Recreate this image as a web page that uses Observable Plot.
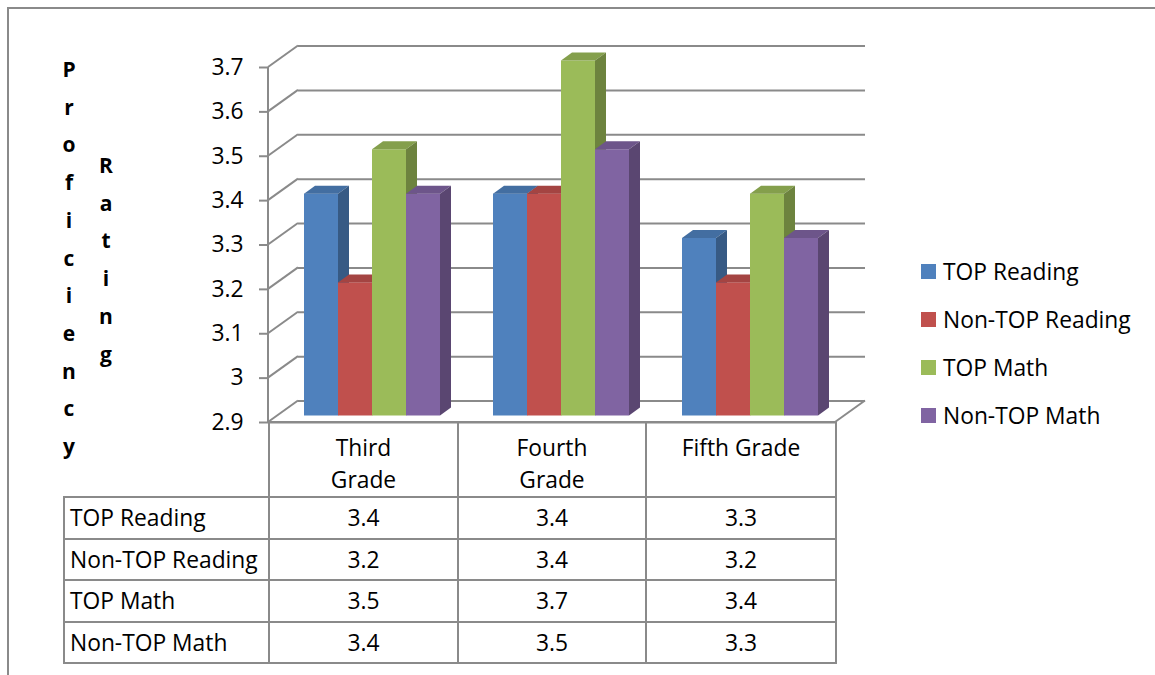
<!DOCTYPE html>
<html>
<head>
<meta charset="utf-8">
<script src="https://cdn.jsdelivr.net/npm/d3@7"></script>
<script src="https://cdn.jsdelivr.net/npm/@observablehq/plot@0.6"></script>
<style>
  html, body { margin: 0; padding: 0; background: #fff; }
  #wrap { position: relative; width: 1155px; height: 675px; overflow: hidden; font-family: "Open Sans", Lato, sans-serif; color: #000; }
  #border { position: absolute; left: 7px; top: 7px; width: 1150px; height: 670px; border-top: 2px solid #8a8a8a; border-left: 2px solid #8a8a8a; box-sizing: border-box; }
  #chart { position: absolute; left: 0; top: 0; }
  .ycol { position: absolute; width: 40px; text-align: center; font-weight: bold; font-size: 21px; line-height: 37.7px; }
  #legend { position: absolute; left: 921px; top: 247px; font-size: 22.8px; }
  #legend .item { height: 48px; display: flex; align-items: center; white-space: nowrap; }
  #legend .sw { width: 15px; height: 15px; margin-right: 7px; }
  #tbl { position: absolute; left: 63px; top: 421px; border-collapse: collapse; table-layout: fixed; font-size: 22.8px; }
  #tbl td { border: 2px solid #8a8a8a; padding: 0; }
  #tbl tr.head td { height: 61px; vertical-align: top; text-align: center; line-height: 32px; padding-top: 9px; white-space: pre-line; }
  #tbl tr.head td.blank { border-left: none; border-top: none; border-bottom: 2px solid #8a8a8a; }
  #tbl tr.row td { height: 39.5px; text-align: center; }
  #tbl tr.row td.lab { text-align: left; padding-left: 5px; white-space: nowrap; }
</style>
</head>
<body>
<div id="wrap">
  <div id="border"></div>
  <div id="chart"></div>
</div>
<script>
// ---- data ----
const grades = ["Third Grade", "Fourth Grade", "Fifth Grade"];
const gradeLabels = ["Third\nGrade", "Fourth\nGrade", "Fifth Grade"];
const series = ["TOP Reading", "Non-TOP Reading", "TOP Math", "Non-TOP Math"];
const topReading = [3.4, 3.4, 3.3];
const nonTopReading = [3.2, 3.4, 3.2];
const topMath = [3.5, 3.7, 3.4];
const nonTopMath = [3.4, 3.5, 3.3];
const yTicks = [2.9, 3.0, 3.1, 3.2, 3.3, 3.4, 3.5, 3.6, 3.7];
const yTitle = ["Proficiency", "Rating"];

// ---- styles ----
const frontColors = ["#4F81BD", "#C0504D", "#9BBB59", "#8064A2"];
const topColors = frontColors.map(c => d3.color(c).darker(0.45).formatHex());
const sideColors = frontColors.map(c => d3.color(c).darker(1.0).formatHex());
const GRID = "#8a8a8a";
const WALL_DX = 30, WALL_DY = -21.5;   // depth of the chart box
const BAR_DX = 9, BAR_DY = -6.5;       // bar front plane offset
const DEPTH_DX = 11, DEPTH_DY = -8;    // bar depth

const valuesBySeries = [topReading, nonTopReading, topMath, nonTopMath];
const rows = grades.flatMap((g, gi) => series.map((s, si) => ({grade: g, series: s, si, value: valuesBySeries[si][gi]})));
const wallRows = yTicks.map(v => ({grade: grades[0], value: v, edge: "left"}))
  .concat([{grade: grades[grades.length - 1], value: yTicks[0], edge: "right"}]);

function drawWalls(index, scales, values, dims) {
  const g = d3.create("svg:g").attr("stroke", GRID).attr("stroke-width", 2).attr("fill", "none");
  const xl = dims.marginLeft, xr = dims.width - dims.marginRight;
  let hasLeft = false;
  for (const i of index) {
    const left = wallRows[i].edge === "left";
    if (left) hasLeft = true;
    const x = left ? xl : xr;
    const y = values.y[i];
    g.append("line").attr("x1", x).attr("y1", y).attr("x2", x + WALL_DX).attr("y2", y + WALL_DY);
  }
  if (hasLeft) {
    g.append("line").attr("x1", xl).attr("x2", xl)
      .attr("y1", scales.y(yTicks[yTicks.length - 1])).attr("y2", scales.y(yTicks[0]));
  }
  return g.node();
}

function drawBars(index, scales, values) {
  const g = d3.create("svg:g");
  const bw = typeof scales.x.bandwidth === "function" ? scales.x.bandwidth() : scales.x.bandwidth;
  const order = Array.from(index).sort((a, b) => values.x[a] - values.x[b]);
  for (const i of order) {
    const s = rows[i].si;
    const x0 = values.x[i] + BAR_DX, x1 = x0 + bw;
    const yt = values.y2[i] + BAR_DY, yb = values.y1[i] + BAR_DY;
    g.append("rect").attr("x", x0).attr("y", yt).attr("width", bw).attr("height", yb - yt).attr("fill", frontColors[s]);
    g.append("path").attr("fill", topColors[s])
      .attr("d", `M${x0},${yt}L${x1},${yt}L${x1 + DEPTH_DX},${yt + DEPTH_DY}L${x0 + DEPTH_DX},${yt + DEPTH_DY}Z`);
    g.append("path").attr("fill", sideColors[s])
      .attr("d", `M${x1},${yt}L${x1 + DEPTH_DX},${yt + DEPTH_DY}L${x1 + DEPTH_DX},${yb + DEPTH_DY}L${x1},${yb}Z`);
  }
  return g.node();
}

const chart = Plot.plot({
  width: 1155,
  height: 675,
  marginTop: 67,
  marginLeft: 268,
  marginRight: 320,
  marginBottom: 253,
  style: {fontFamily: "'Open Sans', Lato, sans-serif", fontSize: "22.8px", color: "#000", background: "transparent"},
  fx: {domain: grades, padding: 0, axis: null},
  x: {domain: series, paddingInner: 0, paddingOuter: 0.74, axis: null},
  y: {domain: [yTicks[0], yTicks[yTicks.length - 1]], label: null},
  marks: [
    Plot.ruleY(yTicks, {dx: WALL_DX, dy: WALL_DY, stroke: GRID, strokeWidth: 2}),
    Plot.ruleY([yTicks[0]], {stroke: GRID, strokeWidth: 2}),
    Plot.ruleY(wallRows, {fx: "grade", y: "value", stroke: GRID, render: drawWalls}),
    Plot.axisY(yTicks, {tickSize: 9, tickPadding: 16, stroke: GRID, strokeWidth: 2, fill: "#000", fontSize: 22.8, tickFormat: d3.format("~g"), label: null}),
    Plot.barY(rows, {fx: "grade", x: "series", y1: () => yTicks[0], y2: "value", render: drawBars})
  ]
});
document.getElementById("chart").appendChild(chart);

const wrap = document.getElementById("wrap");

// y title: stacked letters
const titleCols = [{left: 49, top: 51}, {left: 86, top: 147}];
yTitle.forEach((word, k) => {
  const d = document.createElement("div");
  d.className = "ycol";
  d.style.left = titleCols[k].left + "px";
  d.style.top = titleCols[k].top + "px";
  d.innerHTML = word.split("").map(ch => `<div>${ch}</div>`).join("");
  wrap.appendChild(d);
});

// legend
const legend = document.createElement("div");
legend.id = "legend";
legend.innerHTML = series.map((s, i) =>
  `<div class="item"><div class="sw" style="background:${frontColors[i]}"></div><span>${s}</span></div>`).join("");
wrap.appendChild(legend);

// data table
const tbl = document.createElement("table");
tbl.id = "tbl";
const colW = [205, 189, 188, 190];
let html = "<colgroup>" + colW.map(w => `<col style="width:${w}px">`).join("") + "</colgroup>";
html += `<tr class="head"><td class="blank"></td>` + gradeLabels.map(l => `<td>${l}</td>`).join("") + "</tr>";
series.forEach((s, si) => {
  html += `<tr class="row"><td class="lab">${s}</td>` + valuesBySeries[si].map(v => `<td>${d3.format("~g")(v)}</td>`).join("") + "</tr>";
});
tbl.innerHTML = html;
tbl.style.width = colW.reduce((a, b) => a + b, 0) + "px";
wrap.appendChild(tbl);
</script>
</body>
</html>
